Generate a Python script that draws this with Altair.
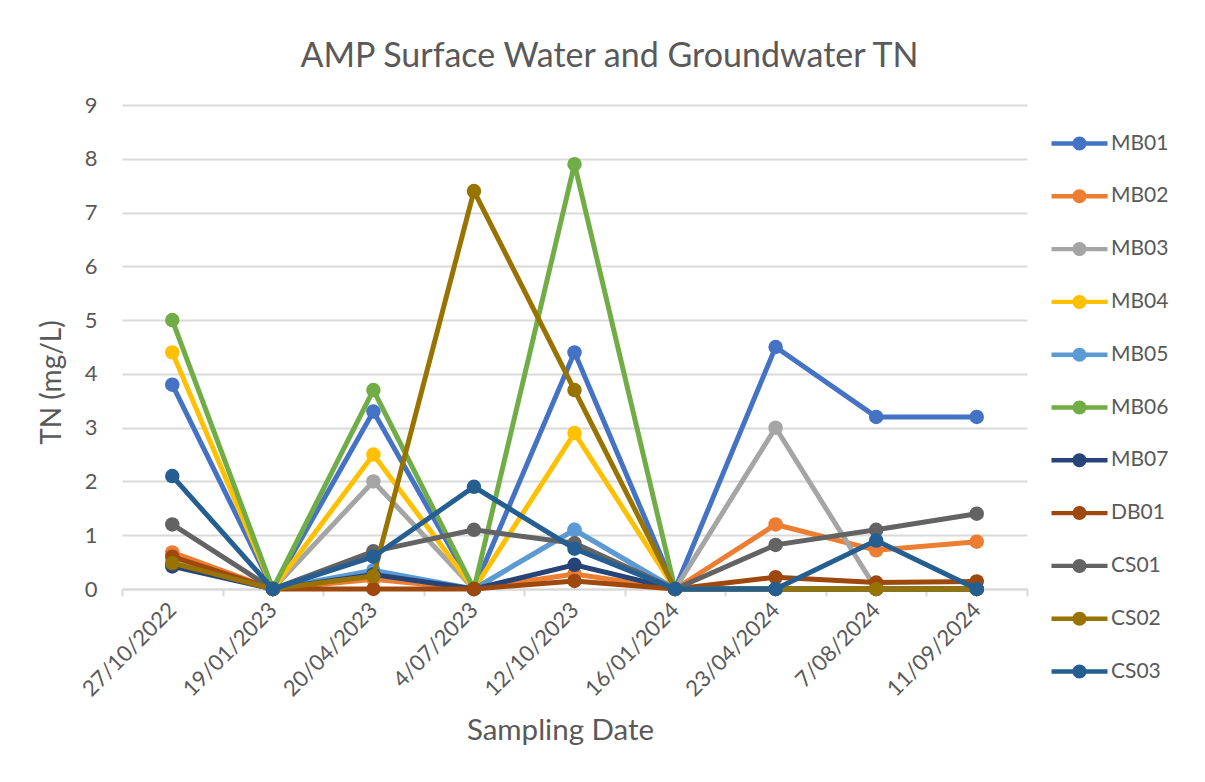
import altair as alt
import pandas as pd

dates = ["27/10/2022", "19/01/2023", "20/04/2023", "4/07/2023", "12/10/2023",
         "16/01/2024", "23/04/2024", "7/08/2024", "11/09/2024"]

series = ["MB01", "MB02", "MB03", "MB04", "MB05", "MB06", "MB07", "DB01", "CS01", "CS02", "CS03"]
colors = ["#4472C4", "#ED7D31", "#A5A5A5", "#FFC000", "#5B9BD5", "#70AD47",
          "#264478", "#9E480E", "#636363", "#997300", "#255E91"]

MB01 = [3.8, 0, 3.3, 0, 4.4, 0, 4.5, 3.2, 3.2]
MB02 = [0.68, 0, 0.18, 0, 0.28, 0, 1.2, 0.72, 0.88]
MB03 = [0.5, 0, 2.0, 0, 1.1, 0, 3.0, 0, 0]
MB04 = [4.4, 0, 2.5, 0, 2.9, 0, 0, 0, 0]
MB05 = [0.45, 0, 0.35, 0, 1.1, 0, 0, 0, 0]
MB06 = [5.0, 0, 3.7, 0, 7.9, 0, 0, 0, 0]
MB07 = [0.42, 0, 0.27, 0, 0.45, 0, 0, 0, 0]
DB01 = [0.6, 0, 0, 0, 0.15, 0, 0.22, 0.12, 0.14]
CS01 = [1.2, 0, 0.7, 1.1, 0.85, 0, 0.82, 1.1, 1.4]
CS02 = [0.48, 0, 0.24, 7.4, 3.7, 0, 0, 0, 0]
CS03 = [2.1, 0, 0.6, 1.9, 0.75, 0, 0, 0.9, 0]

values = {"MB01": MB01, "MB02": MB02, "MB03": MB03, "MB04": MB04, "MB05": MB05,
          "MB06": MB06, "MB07": MB07, "DB01": DB01, "CS01": CS01, "CS02": CS02,
          "CS03": CS03}

rows = [{"date": d, "site": s, "tn": v} for s in series for d, v in zip(dates, values[s])]
df = pd.DataFrame(rows)

FONT = "Lato"
TEXT = "#595959"
GRID = "#D9D9D9"

# legend symbol: line with a dot in the middle (coords scaled by sqrt(size)/2)
LEG_SYMBOL = ("M -2.8 -0.22 L 2.8 -0.22 L 2.8 0.22 L -2.8 0.22 Z "
              "M 0.7 0 A 0.7 0.7 0 1 1 -0.7 0 A 0.7 0.7 0 1 1 0.7 0 Z")

x_enc = alt.X(
    "date:N", sort=dates,
    scale=alt.Scale(type="band", paddingInner=0, paddingOuter=0),
    axis=alt.Axis(
        title="Sampling Date", labelAngle=-45, labelAlign="right", labelBaseline="middle",
        tickBand="extent", tickSize=7, tickColor=GRID, tickWidth=2,
        domainColor=GRID, domainWidth=2, grid=False,
        labelFont=FONT, labelFontSize=22, labelColor=TEXT, labelPadding=10,
        titleFont=FONT, titleFontSize=29.5, titleColor=TEXT, titleFontWeight="normal",
        titleX=438, titleY=141, titleBaseline="middle", titleAlign="center",
    ),
)

y_enc = alt.Y(
    "tn:Q",
    scale=alt.Scale(domain=[0, 9], nice=False, zero=True),
    axis=alt.Axis(
        title="TN (mg/L)", values=list(range(10)), grid=True, gridColor=GRID, gridWidth=2,
        domain=False, ticks=False,
        labelFont=FONT, labelFontSize=22, labelColor=TEXT, labelPadding=25,
        titleFont=FONT, titleFontSize=28, titleColor=TEXT, titleFontWeight="normal",
        titleX=-70, titleY=277, titleBaseline="middle", titleAlign="center",
    ),
)

color_pt = alt.Color(
    "site:N",
    scale=alt.Scale(domain=series, range=colors),
    legend=alt.Legend(
        title=None, orient="none", legendX=947, legendY=28, direction="vertical",
        symbolType=LEG_SYMBOL, symbolSize=400, symbolStrokeWidth=0, symbolOpacity=1,
        labelFont=FONT, labelFontSize=21, labelColor=TEXT, labelOffset=21,
        rowPadding=30.8, padding=0,
    ),
)

layers = []
for s, c in zip(series, colors):
    base = alt.Chart(df).transform_filter(alt.datum.site == s)
    layers.append(base.mark_line(strokeWidth=5, color=c).encode(x=x_enc, y=y_enc))
    layers.append(base.mark_circle(size=210, opacity=1).encode(x=x_enc, y=y_enc, color=color_pt))

chart = alt.layer(*layers).properties(
    width=905, height=484,
    title=alt.Title("AMP Surface Water and Groundwater TN", font=FONT, fontSize=34,
                    color=TEXT, fontWeight="normal", anchor="middle", dx=35, dy=37,
                    offset=40, baseline="middle"),
    autosize=alt.AutoSizeParams(type="none"),
    padding={"left": 114, "top": 97, "right": 170, "bottom": 185},
    background="white",
).configure_view(stroke=None)

chart.save("out.html", embed_options={"renderer": "svg", "actions": False})
